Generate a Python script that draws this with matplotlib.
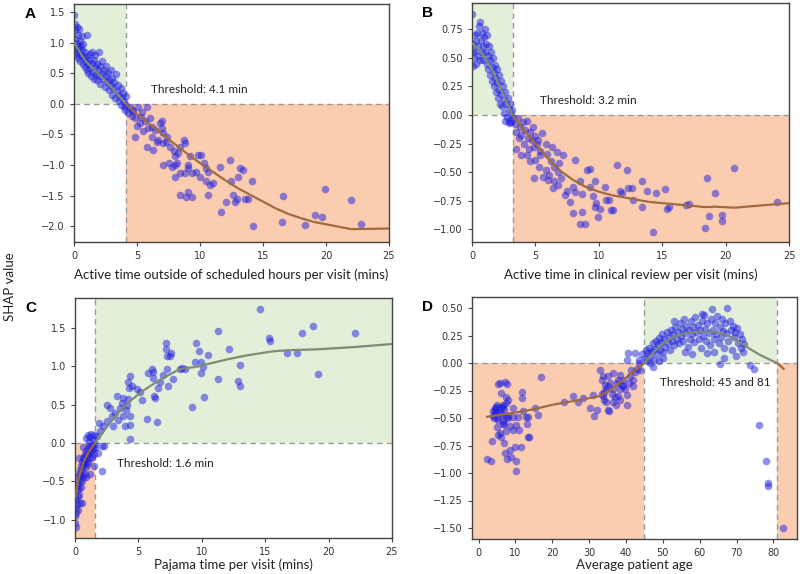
import numpy as np
import matplotlib
matplotlib.use("Agg")
import matplotlib.pyplot as plt

# ---- panel A: active time outside scheduled hours ----
a_x = [0.0, 0.05, 0.1, 0.1, 0.1, 0.15, 0.2, 0.2, 0.25, 0.3, 0.3, 0.35, 0.4, 0.4, 0.45, 0.5, 0.5, 0.55, 0.6, 0.6,
       0.65, 0.7, 0.75, 0.8, 0.85, 0.9, 0.95, 1.0, 1.0, 1.05, 1.1, 1.15, 1.2, 1.25, 1.3, 1.35, 1.4, 1.45, 1.5, 1.55,
       1.6, 1.65, 1.7, 1.75, 1.8, 1.85, 1.9, 1.95, 2.0, 2.05, 2.1, 2.2, 2.25, 2.3, 2.4, 2.45, 2.5, 2.55, 2.6, 2.7,
       2.75, 2.8, 2.9, 2.95, 3.0, 3.05, 3.1, 3.2, 3.25, 3.3, 3.4, 3.5, 3.55, 3.6, 3.7, 3.75, 3.8, 3.9, 3.95, 4.0,
       4.05, 4.1, 4.1,
       4.44, 4.58, 4.84, 5.1, 5.37, 5.77, 4.97, 5.24, 4.84, 5.5, 5.9, 6.03, 6.16, 5.77, 6.3, 6.43, 6.83, 6.96, 7.1, 6.7,
       7.35, 7.1, 7.6, 7.9, 8.0, 8.4, 8.0, 8.15, 8.28, 8.7, 8.8, 7.1, 7.5, 7.75, 8.0, 8.4, 8.4, 8.9, 9.07, 9.33,
       8.8, 9.07, 9.2, 9.07, 9.33, 9.7, 9.86, 10.1, 10.0, 10.3, 10.5, 10.67, 10.5, 10.67, 10.8, 11.05, 11.6, 11.7, 12.1, 12.4,
       12.5, 12.6, 12.78, 12.9, 13.0, 13.2, 13.4, 13.57, 13.8, 14.1, 14.2, 16.6, 16.5, 18.3, 19.1, 19.7, 19.9, 22.0, 22.75,
       4.6, 5.6, 6.2, 6.6, 7.3, 7.0, 4.3, 4.7, 5.3]
a_y = [1.45, 1.30, 1.20, 1.05, 0.90, 0.80, 1.25, 1.0, 0.85, 1.12, 0.95, 0.75, 1.22, 0.9, 1.02, 0.82, 0.70, 0.95, 1.10, 0.78,
       0.88, 0.65, 0.98, 0.75, 0.60, 0.85, 0.70, 0.55, 0.78, 1.12, 0.65, 0.50, 0.72, 0.82, 0.58, 0.45, 0.66, 0.85, 0.52, 0.72,
       0.40, 0.60, 0.80, 0.48, 0.65, 0.38, 0.55, 0.84, 0.45, 0.62, 0.32, 0.50, 0.70, 0.40, 0.55, 0.28, 0.45, 0.62, 0.35, 0.50,
       0.22, 0.38, 0.55, 0.30, 0.15, 0.42, 0.25, 0.35, 0.10, 0.48, 0.20, 0.30, 0.05, 0.15, 0.25, -0.02, 0.10, 0.18, -0.05, 0.05,
       -0.10, 0.12, -0.02,
       -0.06, -0.10, -0.24, -0.05, -0.13, -0.05, -0.37, -0.31, -0.54, -0.45, -0.40, -0.24, -0.54, -0.70, -0.76, -0.43, -0.31, -0.28, -0.48, -0.59,
       -0.54, -0.65, -0.70, -0.78, -0.86, -0.70, -1.00, -0.97, -0.81, -0.59, -0.65, -1.0, -0.97, -1.03, -1.19, -1.14, -1.49, -1.52, -1.44, -1.52,
       -1.14, -1.0, -0.86, -1.05, -1.14, -1.11, -0.84, -0.84, -1.19, -0.97, -1.05, -1.11, -1.27, -1.49, -1.33, -1.30, -1.03, -1.77, -1.60, -0.92,
       -1.27, -1.49, -1.60, -1.55, -1.19, -1.05, -1.08, -1.56, -1.56, -1.27, -2.0, -1.50, -1.93, -1.98, -1.82, -1.85, -1.39, -1.57, -1.96,
       -0.20, -0.28, -0.38, -0.62, -0.62, -0.40, -0.15, -0.12, -0.22]
a_line_x = [0, 0.9, 2, 3, 4.1, 5, 6, 7, 8, 9, 10, 11, 12, 13, 14, 15, 16, 17, 18, 19, 20, 21, 22, 25]
a_line_y = [1.0, 0.70, 0.48, 0.26, 0.0, -0.17, -0.33, -0.50, -0.66, -0.82, -0.97, -1.11, -1.25, -1.38, -1.49,
            -1.60, -1.71, -1.80, -1.87, -1.93, -1.97, -2.01, -2.05, -2.04]

# ---- panel B: active time in clinical review ----
b_x = [0.0, 0.05, 0.1, 0.1, 0.15, 0.2, 0.25, 0.3, 0.3, 0.4, 0.45, 0.5, 0.55, 0.6, 0.6, 0.7, 0.75, 0.8, 0.85, 0.9,
       0.95, 1.0, 1.0, 1.1, 1.15, 1.2, 1.25, 1.3, 1.35, 1.4, 1.45, 1.5, 1.55, 1.6, 1.65, 1.7, 1.75, 1.8, 1.85, 1.9,
       1.95, 2.0, 2.05, 2.1, 2.15, 2.2, 2.25, 2.3, 2.4, 2.45, 2.5, 2.55, 2.6, 2.7, 2.75, 2.8, 2.9, 2.95, 3.0, 3.05,
       3.1, 3.15, 3.2, 2.6, 2.9,
       3.4, 3.5, 3.6, 3.7, 3.8, 3.9, 4.0, 4.1, 4.2, 4.3, 4.4, 4.5, 4.6, 4.7, 4.8, 4.9, 5.0, 5.2, 5.4, 5.5,
       5.8, 3.5, 3.9, 4.6, 4.9, 5.3, 5.8, 6.2, 6.5, 6.9, 7.0, 6.1, 6.8, 7.2,
       4.31, 4.97, 5.36, 5.1, 5.9, 6.3, 6.7, 5.6, 6.0, 6.5, 6.8, 6.4, 7.5, 7.3, 8.1, 9.05, 9.3, 8.0, 8.1, 8.5,
       8.65, 7.7, 8.0, 8.65, 8.5, 8.9, 9.3, 9.7, 9.55, 9.8, 9.7, 10.1, 9.96, 10.5, 10.6, 10.8, 11.0, 11.1, 11.4, 11.7,
       11.8, 12.2, 12.3, 12.6, 12.7, 13.4, 13.4, 13.8, 14.3, 14.5, 15.25, 15.4, 15.5, 16.9, 17.1, 18.5, 18.4, 18.7, 19.2, 19.7,
       19.7, 20.7, 24.05]
b_y = [0.88, 0.55, 0.43, 0.62, 0.50, 0.70, 0.56, 0.45, 0.65, 0.72, 0.52, 0.60, 0.78, 0.81, 0.48, 0.66, 0.55, 0.72, 0.60, 0.48,
       0.68, 0.75, 0.55, 0.62, 0.45, 0.70, 0.52, 0.40, 0.60, 0.48, 0.35, 0.55, 0.42, 0.30, 0.50, 0.38, 0.25, 0.44, 0.32, 0.20,
       0.40, 0.28, 0.15, 0.35, 0.22, 0.10, 0.30, 0.18, 0.08, 0.25, 0.14, 0.02, 0.20, 0.10, -0.02, 0.15, 0.05, -0.05, 0.10, 0.00,
       -0.06, 0.04, -0.03, -0.05, -0.07,
       -0.08, -0.15, -0.03, -0.20, -0.10, -0.17, -0.06, -0.25, -0.13, -0.05, -0.20, -0.30, -0.15, -0.22, -0.10, -0.28, -0.18, -0.22, -0.35, -0.16,
       -0.25, -0.30, -0.35, -0.40, -0.55, -0.45, -0.48, -0.40, -0.45, -0.42, -0.55, -0.52, -0.50, -0.35,
       -0.35, -0.39, -0.31, -0.25, -0.34, -0.28, -0.32, -0.54, -0.57, -0.58, -0.61, -0.64, -0.66, -0.70, -0.39, -0.48, -0.47, -0.63, -0.67, -0.58,
       -0.69, -0.76, -0.86, -0.85, -0.95, -0.95, -0.63, -0.58, -0.71, -0.77, -0.80, -0.82, -0.89, -0.63, -0.74, -0.74, -0.83, -0.83, -0.44, -0.66,
       -0.68, -0.48, -0.64, -0.64, -0.74, -0.58, -0.80, -0.66, -1.02, -0.68, -0.65, -0.82, -0.80, -0.79, -0.78, -0.55, -0.99, -0.88, -0.68, -0.87,
       -0.93, -0.46, -0.76]
b_line_x = [0, 0.5, 1.1, 1.6, 2.2, 2.7, 3.2, 4, 5, 6, 7, 8, 9, 10, 11, 12, 13, 14, 15, 16, 17, 18, 19, 20.7, 25]
b_line_y = [0.63, 0.58, 0.49, 0.39, 0.25, 0.12, 0.0, -0.12, -0.25, -0.38, -0.49, -0.57, -0.63, -0.67, -0.70, -0.72,
            -0.74, -0.76, -0.77, -0.78, -0.79, -0.80, -0.80, -0.81, -0.77]

# ---- panel C: pajama time ----
c_x = [0.0, 0.02, 0.05, 0.05, 0.08, 0.1, 0.12, 0.15, 0.18, 0.2, 0.22, 0.25, 0.28, 0.3, 0.32, 0.35, 0.38, 0.4, 0.42, 0.45,
       0.48, 0.5, 0.52, 0.55, 0.58, 0.6, 0.62, 0.65, 0.7, 0.72, 0.75, 0.8, 0.82, 0.85, 0.9, 0.92, 0.95, 1.0, 1.02, 1.05,
       1.1, 1.15, 1.2, 1.25, 1.3, 1.35, 1.4, 1.45, 1.5, 1.55, 1.2, 0.9, 1.5, 0.3, 0.6, 0.55,
       0.9, 1.0, 1.2, 1.3, 1.4, 1.5, 1.1,
       1.97, 1.7, 2.1, 2.3, 2.1, 1.84, 1.58,
       1.9, 2.2, 2.5, 2.55, 2.76, 2.9, 3.0, 3.15, 3.28, 3.4, 3.55, 3.68, 3.75, 3.8, 3.94, 4.0, 4.07, 4.2, 4.2, 4.33,
       4.28, 4.33, 4.33, 4.33, 4.46, 4.86, 5.1, 5.3, 5.65, 5.77, 6.04, 6.17, 6.17, 6.2, 6.3, 6.43, 6.56, 6.7, 6.96, 7.17,
       7.17, 7.22, 7.22, 7.35, 7.5, 7.54, 7.7, 8.27, 8.4, 8.67, 9.19, 9.53, 9.45, 9.77, 9.93, 9.93, 10.1, 10.16, 10.5, 11.3,
       11.24, 12.13, 12.84, 13.0, 13.0, 14.6, 15.3, 15.4, 16.75, 17.54, 17.9, 18.8, 19.2, 22.1]
c_y = [-1.05, -0.95, -0.85, -1.1, -0.75, -0.92, -0.62, -0.80, -0.55, -0.70, -0.45, -0.88, -0.60, -0.40, -0.52, -0.68, -0.35, -0.48, -0.78, -0.30,
       -0.42, -0.58, -0.25, -0.36, -0.50, -0.20, -0.30, -0.45, -0.18, -0.26, -0.40, -0.14, -0.22, -0.32, -0.10, -0.18, -0.28, -0.06, -0.14, -0.25,
       -0.04, -0.12, -0.20, -0.05, -0.10, -0.18, -0.03, -0.08, -0.15, -0.02, -0.40, -0.45, -0.30, -0.20, -0.05, -0.78,
       0.06, 0.10, 0.08, 0.12, 0.04, 0.10, 0.02,
       0.15, 0.09, -0.04, -0.04, -0.36, -0.13, -0.07,
       0.26, 0.22, 0.28, 0.50, 0.46, 0.35, 0.22, 0.39, 0.61, 0.30, 0.46, 0.52, 0.59, 0.35, 0.22, 0.43, 0.50, 0.57, 0.80, 0.87,
       0.72, 0.35, 0.23, 0.05, 0.74, 0.70, 0.67, 0.56, 0.31, 0.91, 0.97, 0.93, 0.85, 0.61, 0.59, 0.27, 0.72, 0.80, 0.89, 1.30,
       1.22, 1.14, 0.97, 0.74, 1.14, 1.17, 0.83, 0.96, 0.98, 0.97, 0.47, 1.30, 1.05, 1.20, 1.05, 0.91, 0.99, 0.60, 1.15, 1.46,
       0.84, 1.23, 0.81, 1.02, 0.74, 1.75, 1.37, 1.33, 1.17, 1.17, 1.44, 1.53, 0.90, 1.43]
c_line_x = [0, 0.3, 0.7, 1.1, 1.6, 2.2, 2.8, 3.5, 4.3, 5.2, 6.0, 7.0, 8.0, 8.5, 9.5, 10.5, 12, 13.5, 15.4, 16, 17, 19, 22, 25]
c_line_y = [-0.72, -0.45, -0.24, -0.11, 0.0, 0.14, 0.27, 0.41, 0.54, 0.66, 0.75, 0.85, 0.94, 0.97, 0.99, 1.03, 1.09,
            1.14, 1.19, 1.20, 1.21, 1.22, 1.25, 1.29]

# ---- panel D: average patient age ----
d_x = [2.3, 3.3, 3.7, 4.35, 4.8, 5.3, 5.7, 5.1, 5.7, 5.3, 6.2, 6.2, 6.0, 6.4, 6.6, 6.8, 7.1, 7.35, 7.5, 7.7,
       8.0, 8.4, 8.4, 8.9, 9.3, 9.3, 9.8, 9.3, 10.2, 10.1, 10.2, 10.7, 10.9, 11.6, 11.9, 11.9, 12.1, 12.8, 13.2, 13.4,
       13.7, 13.4, 15.4, 16.1, 17.0, 7.2, 7.7, 4.35, 3.9, 4.8, 5.2, 6.6, 4.2, 7.9, 7.4,
       4.5, 5.0, 5.5, 6.0, 6.5, 7.0, 7.5, 8.0, 5.0, 6.5, 4.0, 7.0,
       23.1, 25.7, 26.9, 28.2, 30.2, 31.1, 31.3, 32.0,
       32.9, 33.8, 33.4, 34.3, 34.7, 35.2, 35.6, 36.6, 33.4, 34.0, 34.7, 35.2, 35.5, 36.1, 36.6, 37.0, 37.5, 37.9, 38.4, 38.5,
       39.1, 39.3, 39.7, 40.2, 40.4, 40.9, 41.1, 41.3, 41.8, 42.0, 42.5, 42.9, 43.4, 43.8, 36.6, 35.2, 34.0, 37.2, 33.8, 37.9,
       38.4, 38.8, 40.5, 42.3, 40.2, 43.4, 44.3,
       45.2, 45.5, 45.8, 46.0, 46.3, 46.6, 47.0, 47.2, 47.5, 47.8, 48.0, 48.3, 48.6, 48.9, 49.2, 49.5, 49.8, 50.1, 50.4, 50.7,
       51.0, 51.3, 51.6, 51.9, 52.2, 52.5, 52.8, 53.1, 53.4, 53.7, 54.0, 54.3, 54.6, 54.9, 55.2, 55.5, 55.8, 56.1, 56.4, 56.7,
       57.0, 57.3, 57.6, 57.9, 58.2, 58.5, 58.8, 59.1, 59.4, 59.7, 60.0, 60.3, 60.6, 60.9, 61.2, 61.5, 61.8, 62.1, 62.4, 62.7,
       63.0, 63.3, 63.6, 63.9, 64.2, 64.5, 64.8, 65.1, 65.4, 65.7, 66.0, 66.3, 66.6, 66.9, 67.2, 67.4, 67.8, 68.1, 68.4, 68.7,
       69.0, 69.3, 69.6, 69.9, 70.2, 70.5, 70.8, 71.1, 71.4, 71.7, 72.0, 56.0, 58.0, 62.0, 64.0, 66.5, 60.5, 53.0, 50.0, 46.5,
       49.0, 47.3, 65.6, 73.6, 74.8,
       76.2, 78.0, 78.5, 78.5, 82.6]
d_y = [-0.87, -0.89, -0.71, -0.43, -0.40, -0.19, -0.18, -0.58, -0.64, -0.65, -0.67, -0.27, -0.40, -0.47, -0.53, -0.73, -0.17, -0.31, -0.49, -0.19,
       -0.34, -0.57, -0.79, -0.85, -0.41, -0.49, -0.76, -0.61, -0.56, -0.89, -0.98, -0.49, -0.61, -0.76, -0.26, -0.32, -0.44, -0.49, -0.55, -0.67,
       -0.67, -0.49, -0.41, -0.47, -0.13, -0.82, -0.87, -0.41, -0.44, -0.44, -0.52, -0.40, -0.50, -0.48, -0.62,
       -0.45, -0.38, -0.42, -0.45, -0.38, -0.43, -0.36, -0.50, -0.50, -0.55, -0.48, -0.55,
       -0.35, -0.30, -0.35, -0.32, -0.41, -0.29, -0.48, -0.43,
       -0.06, -0.12, -0.15, -0.20, -0.24, -0.12, -0.18, -0.09, -0.28, -0.34, -0.35, -0.43, -0.44, -0.28, -0.35, -0.31, -0.18, -0.15, -0.24, -0.34,
       -0.21, -0.15, -0.24, -0.29, -0.38, -0.18, -0.12, -0.06, -0.21, -0.15, -0.08, -0.05, 0.0, -0.06, -0.24, -0.21, -0.26, -0.38, -0.30, -0.30,
       -0.11, -0.20, 0.09, 0.09, 0.03, 0.03, 0.08,
       0.05, 0.12, 0.02, 0.09, 0.14, 0.06, 0.11, 0.18, 0.03, 0.13, 0.20, 0.08, 0.16, 0.23, 0.12, 0.19, 0.26, 0.10, 0.22, 0.15,
       0.28, 0.18, 0.24, 0.12, 0.30, 0.20, 0.26, 0.16, 0.33, 0.22, 0.28, 0.18, 0.36, 0.25, 0.31, 0.20, 0.40, 0.27, 0.34, 0.15,
       0.30, 0.22, 0.38, 0.26, 0.33, 0.19, 0.42, 0.28, 0.35, 0.22, 0.30, 0.14, 0.38, 0.25, 0.44, 0.31, 0.20, 0.36, 0.27, 0.16,
       0.40, 0.49, 0.30, 0.22, 0.36, 0.26, 0.43, 0.18, 0.33, 0.24, 0.40, 0.29, 0.14, 0.36, 0.27, 0.50, 0.20, 0.38, 0.30, 0.12,
       0.34, 0.24, 0.28, 0.06, 0.32, 0.18, 0.26, 0.14, 0.22, 0.10, 0.17, 0.10, 0.08, 0.09, 0.10, 0.05, 0.45, 0.38, 0.05, 0.00,
       0.02, -0.04, -0.01, -0.02, -0.05,
       -0.56, -0.89, -1.09, -1.12, -1.50]
d_line_x = [2, 6, 10, 15, 20, 25, 30, 33, 36, 39, 42, 45, 47, 50, 53, 56, 60, 64, 67, 70, 73, 76, 79, 81, 83]
d_line_y = [-0.49, -0.47, -0.45, -0.42, -0.38, -0.35, -0.32, -0.30, -0.24, -0.16, -0.08, 0.0, 0.08, 0.18, 0.24, 0.27,
            0.285, 0.285, 0.26, 0.21, 0.14, 0.08, 0.03, 0.0, -0.06]

GREEN = "#e4efda"
ORANGE = "#fbcdb0"
DOT = "#1e1ee0"
W, H = 800, 574


def panel(rect, xs, ys, lx, ly, xlim, ylim, thr, good, bad, label, ttext, tpos, xlabel, yticks, yfmt, xticks, pad):
    ax = fig.add_axes([rect[0] / W, 1 - rect[3] / H, (rect[2] - rect[0]) / W, (rect[3] - rect[1]) / H])
    ax.set_xlim(xlim)
    ax.set_ylim(ylim)
    for x0, x1 in good:
        ax.fill_between([x0, x1], 0, ylim[1], color=GREEN, lw=0, zorder=0)
    for x0, x1 in bad:
        ax.fill_between([x0, x1], ylim[0], 0, color=ORANGE, lw=0, zorder=0)
    for t in thr:
        ax.axvline(t, color="#9a9a9a", lw=1.0, ls=(0, (4, 3)), zorder=1)
    ax.axhline(0, color="#9a9a9a", lw=1.0, ls=(0, (4, 3)), zorder=1)
    ax.scatter(xs, ys, s=30, color=DOT, alpha=0.5, lw=0, zorder=2)
    # smoothing curve: grey above zero, brown below
    for i in range(len(lx) - 1):
        c = "#808a78" if ly[i] + ly[i + 1] >= 0 else "#a06a40"
        ax.plot(lx[i:i + 2], ly[i:i + 2], color=c, lw=1.6, solid_capstyle="butt", zorder=3)
    ax.text(tpos[0], tpos[1], ttext, fontsize=8.5, family="Lato", va="center", color="#222222", zorder=4)
    ax.set_yticks(yticks)
    ax.set_yticklabels([yfmt.format(v).replace("-", "\u2212") for v in yticks])
    ax.set_xticks(xticks)
    ax.tick_params(labelsize=7, length=3, color="#444444", labelcolor="#333333")
    ax.set_xlabel(xlabel, fontsize=9.5, family="Lato", color="#222222", labelpad=pad)
    for s in ax.spines.values():
        s.set_color("#444444")
        s.set_linewidth(1.0)
    fig.text(rect[0] / W - 0.055, 1 - (rect[1] + 10) / H, label, fontsize=11, fontweight="bold",
             family="Liberation Sans", ha="center", va="center")
    return ax


fig = plt.figure(figsize=(8, 5.74), dpi=100)

panel((74, 4, 389, 242), a_x, a_y, a_line_x, a_line_y, (0, 25), (-2.26, 1.63), [4.1], [(0, 4.1)], [(4.1, 25)],
      "A", "Threshold: 4.1 min", (6.08, 0.23), "Active time outside of scheduled hours per visit (mins)",
      [-2.0, -1.5, -1.0, -0.5, 0.0, 0.5, 1.0, 1.5], "{:.1f}", [0, 5, 10, 15, 20, 25], 5)
panel((472, 3, 789, 242), b_x, b_y, b_line_x, b_line_y, (0, 25), (-1.11, 0.98), [3.2], [(0, 3.2)], [(3.2, 25)],
      "B", "Threshold: 3.2 min", (5.39, 0.13), "Active time in clinical review per visit (mins)",
      [-1.0, -0.75, -0.5, -0.25, 0.0, 0.25, 0.5, 0.75], "{:.2f}", [0, 5, 10, 15, 20, 25], 5)
panel((75, 298, 392, 538), c_x, c_y, c_line_x, c_line_y, (0, 25), (-1.24, 1.89), [1.6], [(1.6, 25)], [(0, 1.6)],
      "C", "Threshold: 1.6 min", (3.28, -0.27), "Pajama time per visit (mins)",
      [-1.0, -0.5, 0.0, 0.5, 1.0, 1.5], "{:.1f}", [0, 5, 10, 15, 20, 25], 1)
panel((472, 297, 797, 539), d_x, d_y, d_line_x, d_line_y, (-1.8, 86.4), (-1.6, 0.6), [45, 81], [(45, 81)],
      [(-1.8, 45), (81, 86.4)], "D", "Threshold: 45 and 81", (49.25, -0.175), "Average patient age",
      [-1.5, -1.25, -1.0, -0.75, -0.5, -0.25, 0.0, 0.25, 0.5], "{:.2f}", [0, 10, 20, 30, 40, 50, 60, 70, 80], 1)

fig.text(10 / W, 0.5, "SHAP value", rotation=90, fontsize=9.5, family="Lato", ha="center", va="center", color="#222222")

fig.savefig("out.png", dpi=100)
